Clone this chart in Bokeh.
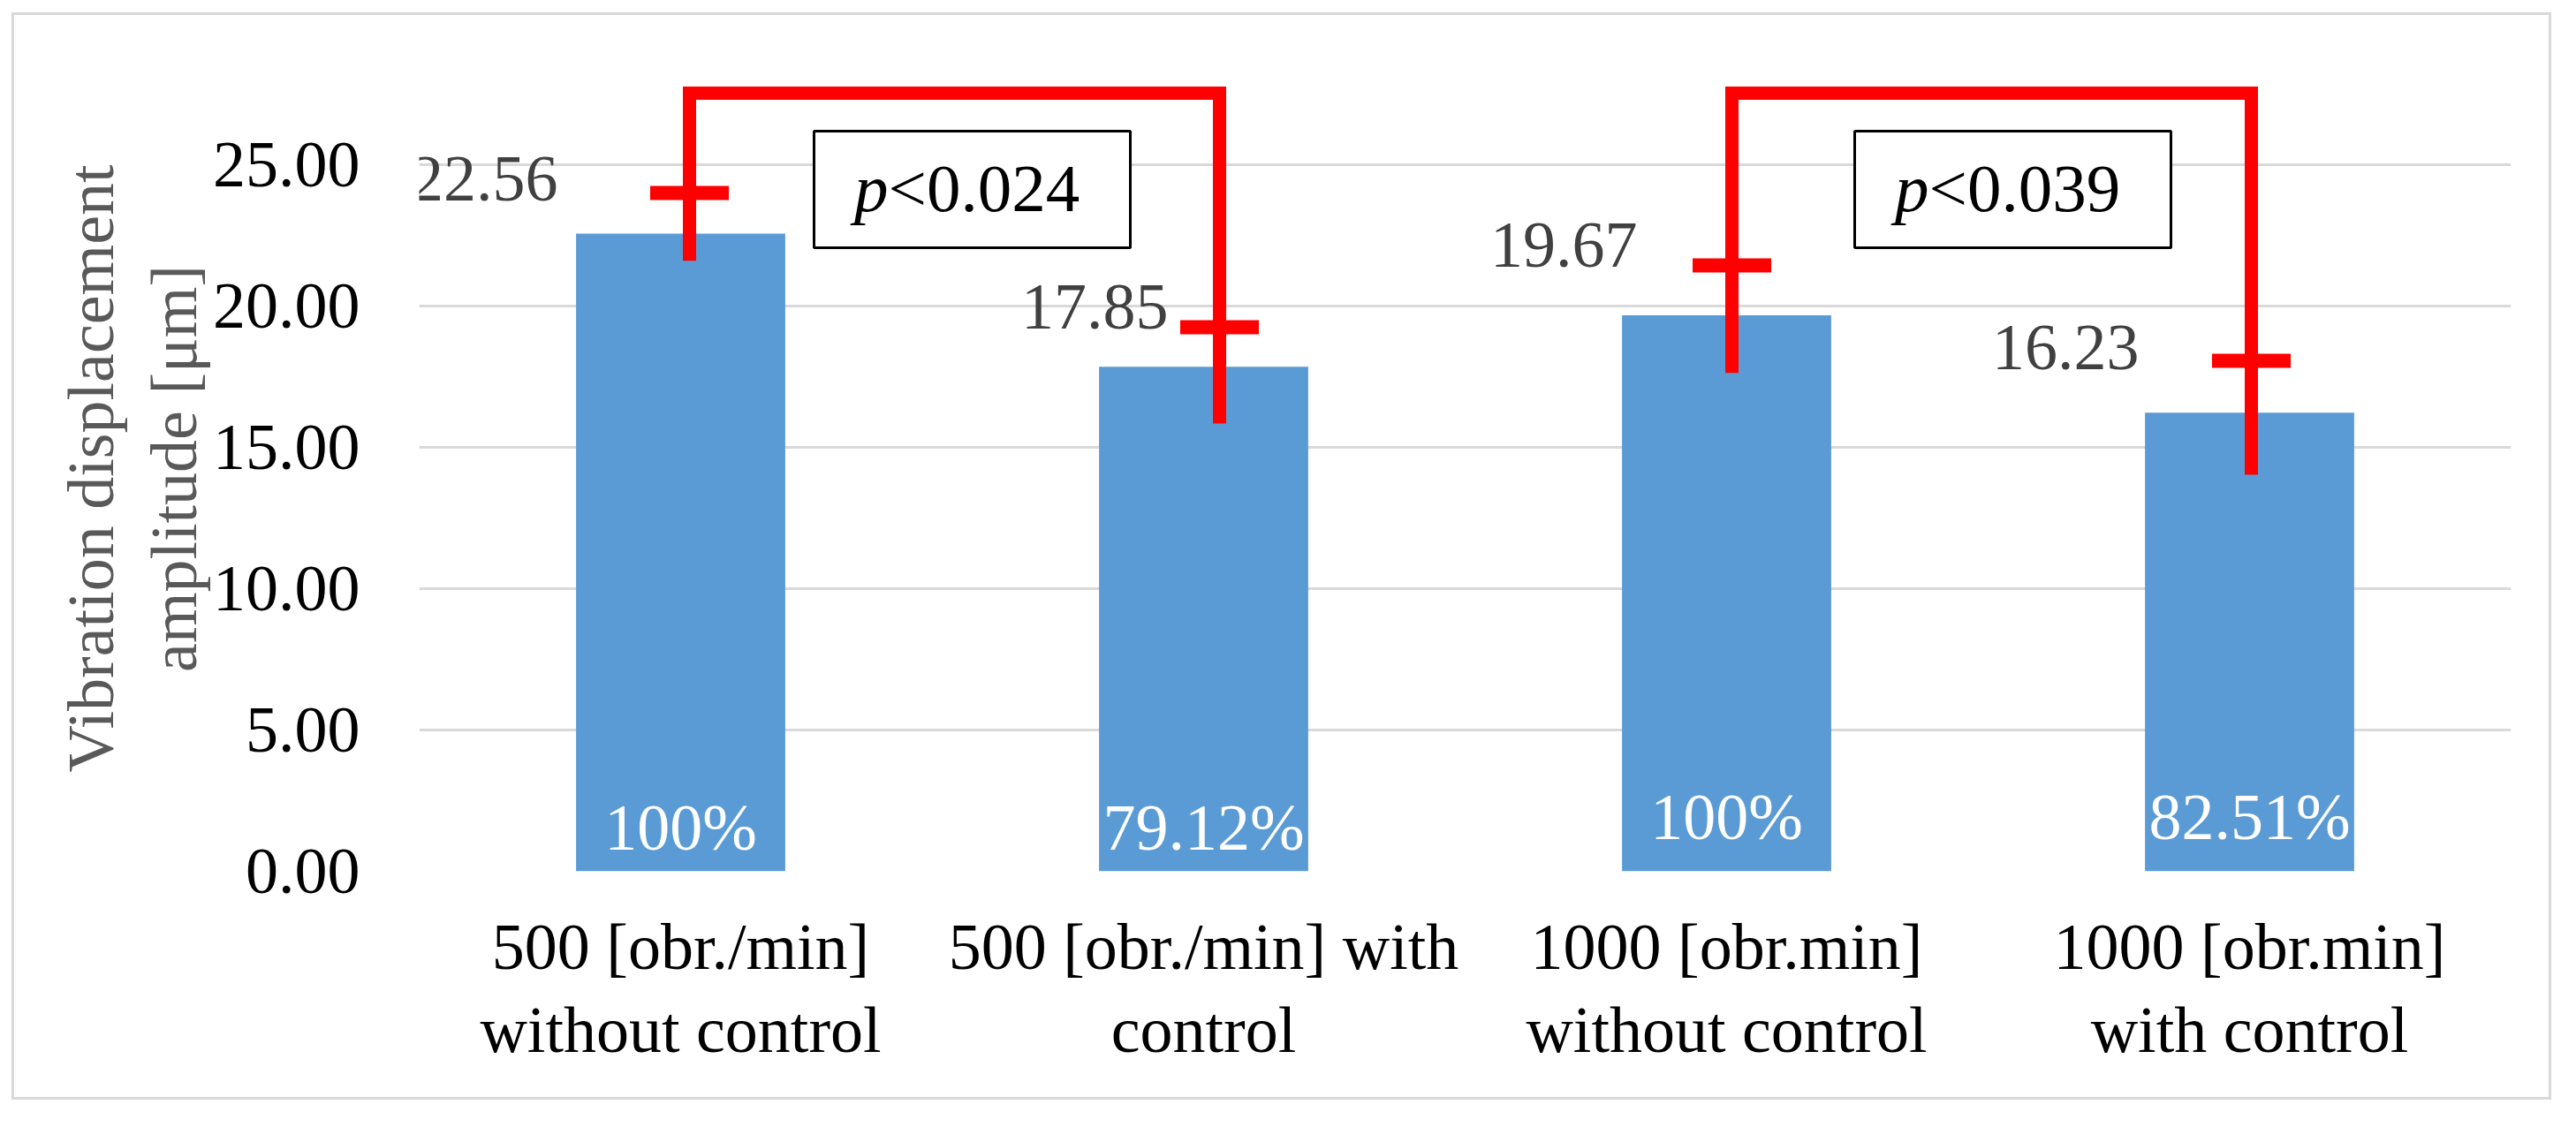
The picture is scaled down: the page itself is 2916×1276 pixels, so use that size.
import numpy as np
from bokeh.plotting import figure
from bokeh.models import (Range1d, FixedTicker, NumeralTickFormatter, BoxAnnotation,
                          Label, Whisker, TeeHead, ColumnDataSource)
from bokeh.core.properties import value
from bokeh.embed import file_html
from bokeh.resources import INLINE

# ---------------- data ----------------
categories = ["500 [obr./min]\nwithout control",
              "500 [obr./min] with\ncontrol",
              "1000 [obr.min]\nwithout control",
              "1000 [obr.min]\nwith control"]
amplitude = [22.56, 17.85, 19.67, 16.23]
err_upper = [24.00, 19.25, 21.44, 18.06]
err_lower = [21.60, 15.84, 17.63, 14.03]
percent_labels = ["100%", "79.12%", "100%", "82.51%"]
p_pairs = [(0, 1), (2, 3)]
p_texts = ["<0.024", "<0.039"]
y_ticks = [0, 5, 10, 15, 20, 25]
y_title = "Vibration displacement\namplitude [μm]"

# ---------------- layout / style ----------------
FONT = "Liberation Serif"
FS = "74px"
BAR_COLOR = "#5b9bd5"
RED = "#ff0000"
GRID = "#d9d9d9"
CAT_PX = 592.0                      # pixels per category
PX_PER_UNIT = 32.0
BASE_FIX = 30                       # renderer baseline correction (px)
errbar_dx_px = [10, 18, 6, 2]       # small hand-drawn offsets of the error bars
label_dx_px = [-139, -40, -101, -125]
label_dy_px = [14, 7, 7, 15]
pct_dy_px = [20, 20, 32, 32]
bracket_y = 27.53
box_dx_px = [34, 28]
box_w_px = 358
box_top, box_bottom = 26.19, 22.06
p_text_y = 23.22 + BASE_FIX / PX_PER_UNIT

W, H = 2875, 1231
p = figure(width=W, height=H, output_backend="svg", toolbar_location=None,
           x_range=Range1d(0, len(categories)), y_range=Range1d(0, 28.5),
           min_border_left=458, min_border_right=49, min_border_top=57,
           min_border_bottom=262, tools="",
           styles={"border": "3px solid #d9d9d9", "margin": "14px 0px 0px 13px"})
p.outline_line_color = None
p.background_fill_color = "white"
p.border_fill_color = "white"

xpos = np.arange(len(categories)) + 0.5
ex = xpos + np.array(errbar_dx_px) / CAT_PX

# bars
p.vbar(x=xpos, top=amplitude, width=0.4, fill_color=BAR_COLOR, line_color=None)

# brackets (include the vertical stems of the error bars)
for (i, j) in p_pairs:
    p.line(x=[ex[i], ex[i], ex[j], ex[j]],
           y=[err_lower[i], bracket_y, bracket_y, err_lower[j]],
           line_color=RED, line_width=15, line_join="miter", line_cap="butt")

# error bars
src = ColumnDataSource(dict(base=ex, upper=err_upper, lower=err_lower))
wh = Whisker(base="base", upper="upper", lower="lower", source=src,
             line_color=RED, line_width=15,
             upper_head=TeeHead(size=89, line_color=RED, line_width=16),
             lower_head=TeeHead(size=89, line_color=RED, line_width=16))
p.add_layout(wh)

# value labels
p.text(x=xpos, y=err_upper, text=[f"{v:.2f}" for v in amplitude],
       x_offset=label_dx_px, y_offset=[d - BASE_FIX for d in label_dy_px],
       text_align="right", text_baseline="alphabetic",
       text_font=value(FONT), text_font_size=FS, text_color="#404040")

# percent labels inside bars
p.text(x=xpos, y=[0] * len(xpos), text=percent_labels,
       x_offset=0, y_offset=[-d - BASE_FIX for d in pct_dy_px],
       text_align="center", text_baseline="alphabetic",
       text_font=value(FONT), text_font_size=FS, text_color="white")

# p-value boxes
for k, (i, j) in enumerate(p_pairs):
    mid = (xpos[i] + xpos[j]) / 2 + box_dx_px[k] / CAT_PX
    box = BoxAnnotation(left=mid - box_w_px / 2 / CAT_PX, right=mid + box_w_px / 2 / CAT_PX,
                        bottom=box_bottom, top=box_top,
                        fill_color="white", fill_alpha=1.0,
                        line_color="black", line_alpha=1.0, line_width=3)
    p.add_layout(box)
    split = mid - 95 / CAT_PX
    p.add_layout(Label(x=split, y=p_text_y, text="p", text_align="right",
                       text_baseline="alphabetic", text_font=FONT, text_font_size="77px",
                       text_font_style="italic", text_color="black"))
    p.add_layout(Label(x=split, y=p_text_y, text=p_texts[k], text_align="left",
                       text_baseline="alphabetic", text_font=FONT, text_font_size="77px",
                       text_color="black"))

# axes
p.xaxis.ticker = FixedTicker(ticks=list(xpos))
p.xaxis.major_label_overrides = {float(x): c for x, c in zip(xpos, categories)}
p.xaxis.axis_line_color = None
p.xaxis.major_tick_line_color = None
p.xaxis.minor_tick_line_color = None
p.xaxis.major_tick_out = 0
p.xaxis.major_label_standoff = 44
p.xaxis.major_label_text_font = FONT
p.xaxis.major_label_text_font_size = FS
p.xaxis.major_label_text_color = "black"
p.xaxis.major_label_text_line_height = 1.15

p.yaxis.ticker = FixedTicker(ticks=y_ticks)
p.yaxis.formatter = NumeralTickFormatter(format="0.00")
p.yaxis.axis_line_color = None
p.yaxis.major_tick_line_color = None
p.yaxis.minor_tick_line_color = None
p.yaxis.major_tick_out = 0
p.yaxis.major_label_standoff = 67
p.yaxis.major_label_text_font = FONT
p.yaxis.major_label_text_font_size = FS
p.yaxis.major_label_text_color = "black"
p.yaxis.axis_label = y_title
p.yaxis.axis_label_text_font = FONT
p.yaxis.axis_label_text_font_size = FS
p.yaxis.axis_label_text_font_style = "normal"
p.yaxis.axis_label_text_color = "#595959"
p.yaxis.axis_label_standoff = 0
p.yaxis.axis_label_text_line_height = 1.15

p.xgrid.grid_line_color = None
p.ygrid.grid_line_color = GRID
p.ygrid.grid_line_width = 3

open("out.html", "w").write(file_html(p, INLINE))
